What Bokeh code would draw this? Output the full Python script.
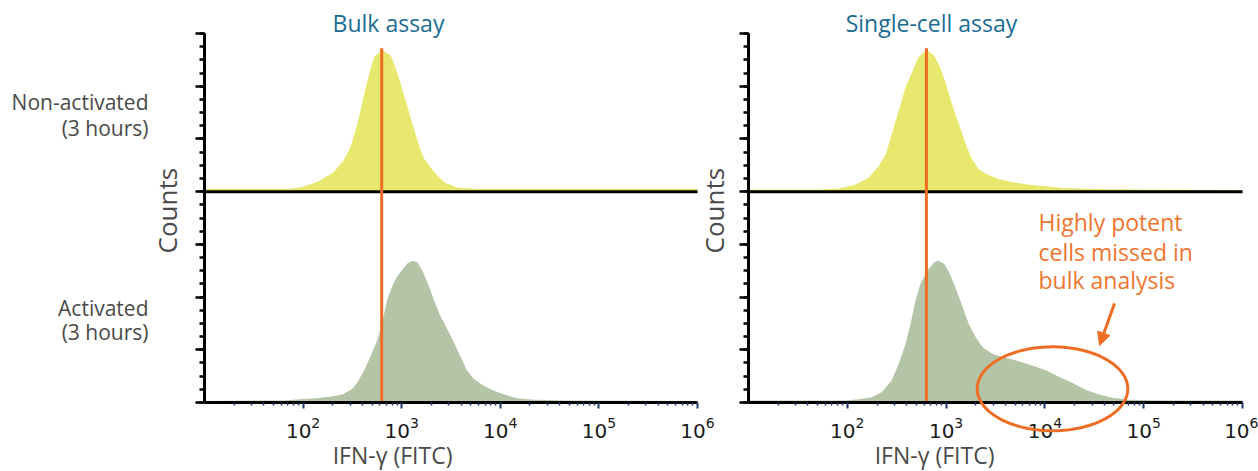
import numpy as np
from math import pi
from bokeh.plotting import figure
from bokeh.models import (Range1d, FixedTicker, LinearAxis, Label,
                          Arrow, NormalHead, PolyAnnotation)
from bokeh.layouts import row
from bokeh.embed import file_html
from bokeh.resources import INLINE

# ---------------- data (log10 IFN-gamma intensity, counts) ----------------
bulk_nonact_log = [1.00, 1.84, 1.97, 2.14, 2.31, 2.41, 2.48, 2.55, 2.62, 2.67, 2.72, 2.80,
                   2.89, 2.95, 3.02, 3.09, 3.16, 3.22, 3.33, 3.43, 3.56, 3.77, 6.00]
bulk_nonact_counts = [5, 5, 8, 18, 37, 59, 84, 128, 185, 223, 255, 269,
                      258, 229, 185, 141, 97, 65, 37, 18, 8, 5, 5]

bulk_act_log = [1.00, 1.81, 1.97, 2.14, 2.31, 2.41, 2.50, 2.55, 2.62, 2.68,
                2.75, 2.80, 2.85, 2.90, 2.95, 3.01, 3.06, 3.11, 3.16, 3.21,
                3.26, 3.33, 3.39, 3.46, 3.53, 3.60, 3.66, 3.73, 3.83, 3.93,
                4.04, 4.17, 4.34, 4.68, 6.00]
bulk_act_counts = [3, 4, 6, 8, 12, 16, 26, 38, 61, 86,
                   117, 149, 193, 219, 238, 253, 264, 269, 266, 250,
                   228, 193, 165, 140, 114, 86, 61, 45, 32, 23,
                   15, 8, 5, 4, 3]

sc_nonact_log = [1.00, 1.71, 1.91, 2.08, 2.22, 2.32, 2.39, 2.45, 2.52, 2.59,
                 2.66, 2.72, 2.80, 2.88, 2.94, 2.99, 3.06, 3.13, 3.20, 3.26,
                 3.33, 3.40, 3.53, 3.67, 3.84, 4.01, 4.18, 4.51, 5.02, 6.00]
sc_nonact_counts = [4, 4, 6, 13, 27, 49, 71, 109, 154, 198,
                    229, 255, 269, 258, 236, 210, 166, 128, 90, 62,
                    43, 34, 24, 18, 13, 10, 7, 5, 4, 3]

sc_act_log = [1.00, 1.98, 2.12, 2.25, 2.35, 2.45, 2.52, 2.59, 2.64, 2.69,
              2.74, 2.81, 2.88, 2.92, 2.98, 3.03, 3.08, 3.13, 3.18, 3.23,
              3.30, 3.37, 3.47, 3.60, 3.74, 3.87, 4.01, 4.14, 4.28, 4.41,
              4.55, 4.68, 4.85, 5.19, 6.00]
sc_act_counts = [4, 4, 6, 10, 20, 42, 73, 111, 149, 193,
                 225, 250, 266, 269, 263, 247, 225, 200, 174, 149,
                 124, 105, 92, 85, 78, 70, 61, 49, 37, 24,
                 15, 9, 5, 4, 4]

# reference (median of non-activated) intensity and line top
bulk_median = 627
sc_median = 632
median_top = 672

titles = ["Bulk assay", "Single-cell assay"]
row_labels = ["Non-activated", "(3 hours)", "Activated", "(3 hours)"]
x_label = "IFN-\u03b3 (FITC)"
y_label = "Counts"
note_lines = ["Highly potent", "cells missed in", "bulk analysis"]

# axis tick positions
x_decades = [1e2, 1e3, 1e4, 1e5, 1e6]
x_minor = [m * 10 ** e for e in range(1, 6) for m in range(2, 10)]
y_major = list(range(0, 701, 100))
y_minor = list(range(0, 701, 25))

X_MIN, X_MAX = 10, 1e6
Y_MAX = 700
TOP_BASE = 400   # baseline of the upper (non-activated) histogram

# ---------------- style / layout ----------------
YELLOW = "#E9E86E"
GREEN = "#B3C4A7"
ORANGE = "#EE6D24"
ORANGE_TXT = "#EF7530"
TITLE_C = "#1B6D93"
GREY_TXT = "#4A4A4A"
NAVY = "#1F3A66"
FONT = "Open Sans"
H = 471
AX_TOP, AX_BOTTOM = 33, 402          # pixel rows of the y-axis ends
PX_PER_UNIT = (AX_BOTTOM - AX_TOP) / Y_MAX


def style_y_axis(ax, ticks, tick_len):
    ax.fixed_location = X_MIN
    ax.bounds = (0, Y_MAX)
    ax.ticker = FixedTicker(ticks=[], minor_ticks=ticks)
    ax.axis_line_width = 3
    ax.axis_line_color = "black"
    ax.minor_tick_line_color = "black"
    ax.minor_tick_line_width = 2.5
    ax.minor_tick_in = 0
    ax.minor_tick_out = tick_len
    ax.major_tick_line_color = None


def make_panel(width, axis_px, px_per_decade, nonact_log, nonact_counts,
               act_log, act_counts, median, title, title_x, xlabel_x):
    lo = 1 - axis_px / px_per_decade
    hi = 1 + (width - axis_px) / px_per_decade
    y_lo = -(H - AX_BOTTOM) / PX_PER_UNIT
    y_hi = AX_BOTTOM / PX_PER_UNIT
    p = figure(width=width, height=H, x_axis_type="log",
               x_range=Range1d(10 ** lo, 10 ** hi), y_range=Range1d(y_lo, y_hi),
               output_backend="svg", toolbar_location=None,
               min_border_left=0, min_border_right=0,
               min_border_top=0, min_border_bottom=0)
    p.outline_line_color = None
    p.grid.visible = False
    p.border_fill_color = "white"

    xn = 10 ** np.array(nonact_log)
    yn = np.array(nonact_counts, dtype=float)
    p.varea(x=xn, y1=np.full(len(xn), TOP_BASE), y2=TOP_BASE + yn,
            fill_color=YELLOW, fill_alpha=1)
    xa_ = 10 ** np.array(act_log)
    ya_ = np.array(act_counts, dtype=float)
    p.varea(x=xa_, y1=np.zeros(len(xa_)), y2=ya_, fill_color=GREEN, fill_alpha=1)

    p.segment(x0=[X_MIN], y0=[TOP_BASE], x1=[X_MAX], y1=[TOP_BASE],
              line_color="black", line_width=3)
    p.segment(x0=[median], y0=[0], x1=[median], y1=[median_top],
              line_color=ORANGE, line_width=3)

    xa = p.xaxis[0]
    xa.fixed_location = 0
    xa.bounds = (X_MIN, X_MAX)
    xa.ticker = FixedTicker(ticks=x_decades, minor_ticks=x_minor)
    xa.axis_line_width = 3
    xa.axis_line_color = "black"
    xa.major_tick_line_color = NAVY
    xa.minor_tick_line_color = NAVY
    xa.major_tick_line_width = 2
    xa.minor_tick_line_width = 1.5
    xa.major_tick_in = 0
    xa.major_tick_out = 6
    xa.minor_tick_in = 0
    xa.minor_tick_out = 3
    xa.major_label_text_font = "DejaVu Sans"
    xa.major_label_text_font_size = "20px"
    xa.major_label_text_color = "#1a1a1a"
    xa.major_label_standoff = 8

    # y axis: minor ticks every 25 counts, long ticks every 100 (second axis)
    style_y_axis(p.yaxis[0], y_minor, 5)
    long_ticks = LinearAxis()
    style_y_axis(long_ticks, y_major, 9)
    p.add_layout(long_ticks, "left")

    p.add_layout(Label(x=title_x, y=719, text=title, text_font=FONT,
                       text_font_size="23px", text_color=TITLE_C,
                       text_align="center", text_baseline="alphabetic"))
    p.add_layout(Label(x=xlabel_x, y=-99, text=x_label, text_font=FONT,
                       text_font_size="23px", text_color=GREY_TXT,
                       text_align="center", text_baseline="alphabetic"))
    return p


# left canvas spans x 0..735 (y-axis at px 204), right canvas 735..1258 (y-axis at px 748)
left = make_panel(735, 204, 98.6, bulk_nonact_log, bulk_nonact_counts,
                  bulk_act_log, bulk_act_counts, bulk_median,
                  titles[0], 10 ** 2.866, 10 ** 2.907)
right = make_panel(523, 13, 98.8, sc_nonact_log, sc_nonact_counts,
                   sc_act_log, sc_act_counts, sc_median,
                   titles[1], 10 ** 2.852, 10 ** 2.883)

# "Counts" labels (both drawn on the left canvas, which reaches past x=730)
for cx in (10 ** 0.620, 10 ** 6.167):
    left.add_layout(Label(x=cx, y=364, text=y_label, text_font=FONT,
                          text_font_size="26px", text_color=GREY_TXT, angle=pi / 2,
                          text_align="center", text_baseline="alphabetic"))

# row labels (left panel)
for t, yy in zip(row_labels, [569.7, 521, 179.7, 134.2]):
    left.add_layout(Label(x=10 ** 0.432, y=yy, text=t, text_font=FONT,
                          text_font_size="21px", text_color=GREY_TXT,
                          text_align="right", text_baseline="alphabetic"))

# annotation in single-cell panel
for t, yy in zip(note_lines, [341.8, 286.3, 232.6]):
    right.add_layout(Label(x=10 ** 3.935, y=yy, text=t, text_font=FONT,
                           text_font_size="23px", text_color=ORANGE_TXT,
                           text_align="left", text_baseline="alphabetic"))

tt = np.linspace(0, 2 * pi, 160)
ell_cx, ell_rx, ell_cy, ell_ry = 4.077, 0.762, 26.0, 79.6
right.add_layout(PolyAnnotation(xs=list(10 ** (ell_cx + ell_rx * np.cos(tt))),
                                ys=list(ell_cy + ell_ry * np.sin(tt)),
                                fill_alpha=0, line_color=ORANGE, line_alpha=1,
                                line_width=3))
right.add_layout(Arrow(x_start=10 ** 4.704, y_start=188, x_end=10 ** 4.553, y_end=108,
                       line_color=ORANGE, line_width=3,
                       end=NormalHead(size=13, fill_color=ORANGE, line_color=ORANGE)))

layout = row(left, right)
open("out.html", "w").write(file_html(layout, INLINE))
